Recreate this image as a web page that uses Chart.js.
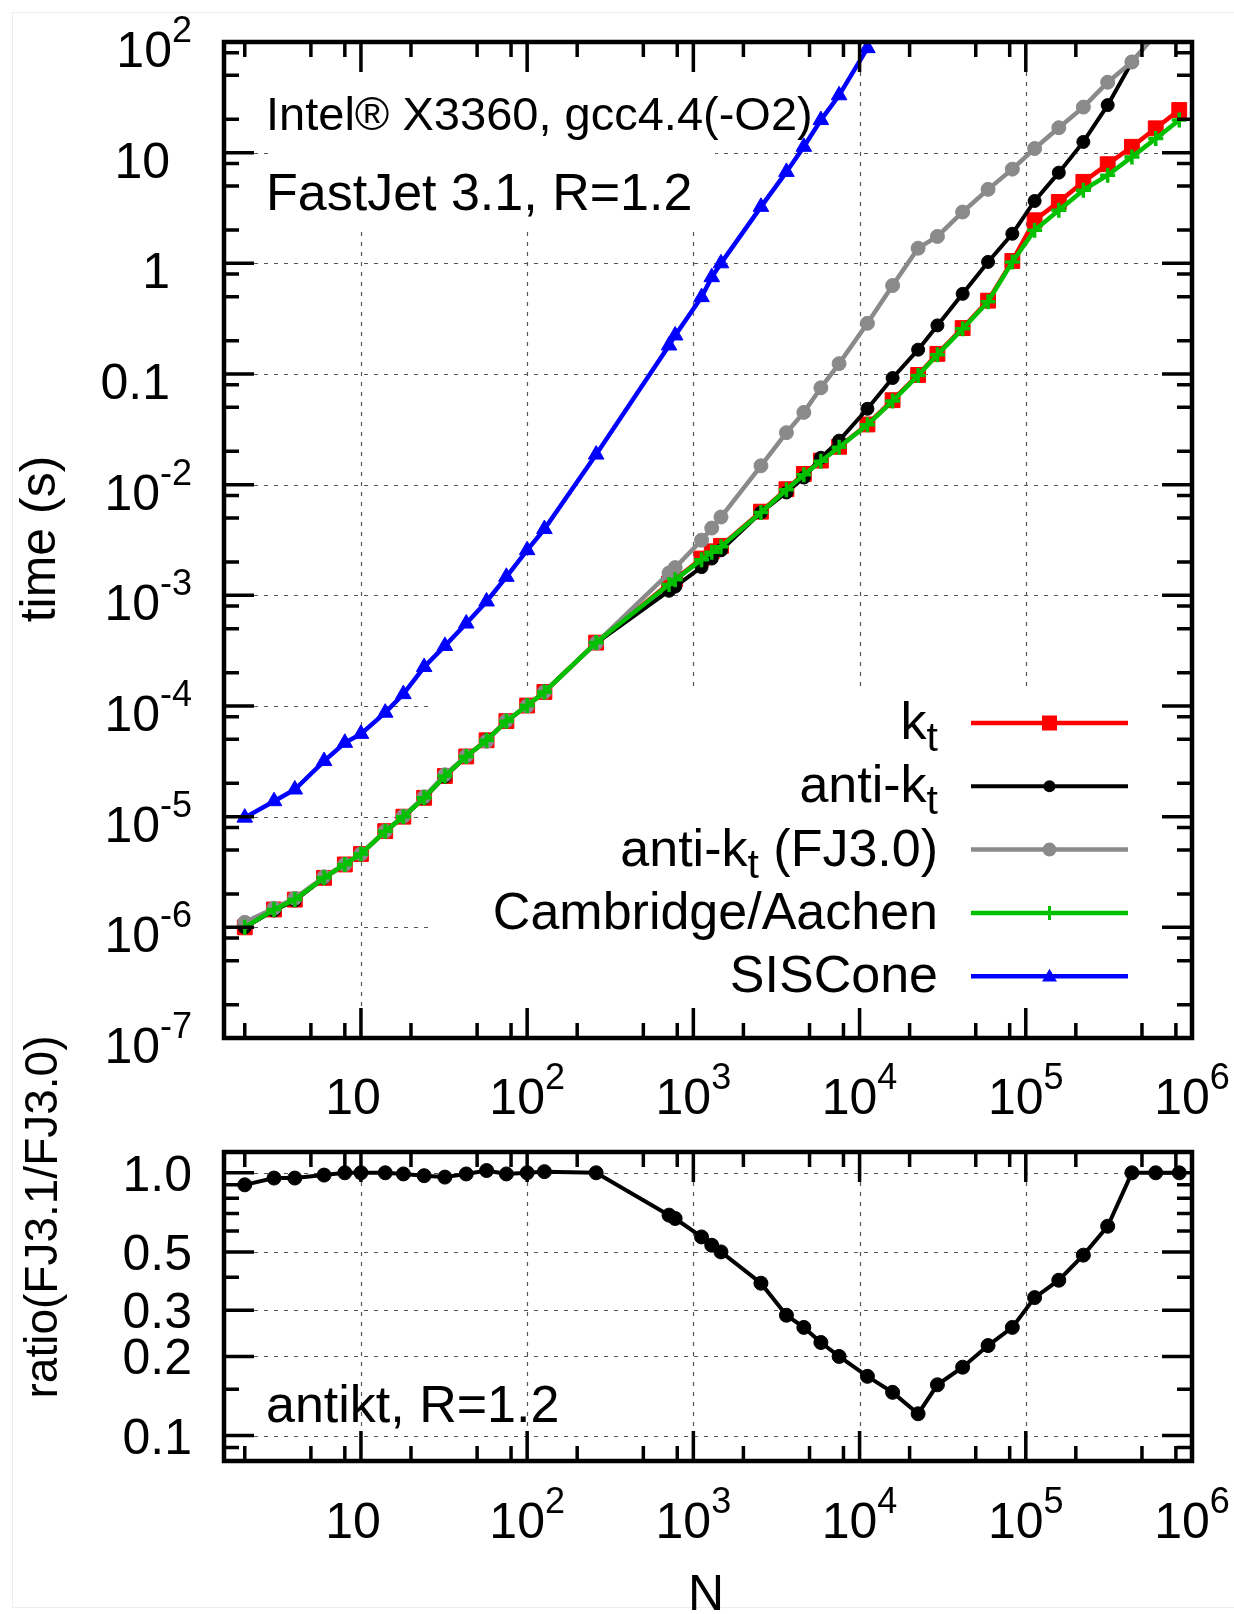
<!DOCTYPE html>
<html>
<head>
<meta charset="utf-8">
<title>FastJet 3.1 timings</title>
<script src="https://cdn.jsdelivr.net/npm/chart.js@4.4.1/dist/chart.umd.min.js"></script>
<style>
	html, body { margin: 0; padding: 0; background: #fff; }
	#wrap { position: relative; width: 1234px; height: 1614px; overflow: hidden; background: #fff; }
	#frame { position: absolute; left: 12px; top: 12px; width: 1300px; height: 1594px; border: 1px solid #eeeeee; }
	canvas { position: absolute; left: 0; }
	#timeChart { top: 0; }
	#ratioChart { top: 1000px; }
</style>
</head>
<body>
<div id="wrap">
	<div id="frame"></div>
	<canvas id="timeChart" width="1234" height="1140"></canvas>
	<canvas id="ratioChart" width="1234" height="614"></canvas>
</div>
<script>
const FONT = '"Liberation Sans", Arial, Helvetica, sans-serif';

// number of particles N (shared x axis)
const N = [2, 3, 4, 6, 8, 10, 14, 18, 24, 32, 43, 57, 75, 100, 127, 260,
	714, 777, 1120, 1290, 1466, 2550, 3630, 4620, 5850, 7530, 11150, 15800,
	22500, 29400, 41700, 59300, 83000, 113000, 158000, 222000, 311000, 435000,
	605000, 838000];

// clustering time in seconds
const ktTime = [1.0e-6, 1.45e-6, 1.78e-6, 2.8e-6, 3.7e-6, 4.6e-6, 7.4e-6, 1.0e-5,
	1.48e-5, 2.33e-5, 3.5e-5, 4.9e-5, 7.3e-5, 1.01e-4, 1.34e-4, 3.74e-4,
	1.28e-3, 1.40e-3, 2.15e-3, 2.5e-3, 2.8e-3, 5.7e-3, 9.1e-3, 1.25e-2, 1.65e-2,
	2.2e-2, 3.5e-2, 5.8e-2, 9.8e-2, 0.152, 0.26, 0.46, 1.05, 2.45, 3.59, 5.45,
	7.87, 11.3, 16.6, 24.3];
const antiktTime = [1.0e-6, 1.42e-6, 1.75e-6, 2.8e-6, 3.7e-6, 4.6e-6, 7.4e-6, 1.0e-5,
	1.47e-5, 2.3e-5, 3.5e-5, 4.9e-5, 7.3e-5, 1.0e-4, 1.35e-4, 3.7e-4,
	1.10e-3, 1.20e-3, 1.80e-3, 2.15e-3, 2.55e-3, 5.6e-3, 8.5e-3, 1.16e-2, 1.75e-2,
	2.5e-2, 4.85e-2, 9.2e-2, 0.166, 0.275, 0.53, 1.03, 1.85, 3.66, 6.6, 12.5,
	26.9, 66, 118, 200];
const antiktFJ30Time = [1.11e-6, 1.49e-6, 1.83e-6, 2.86e-6, 3.7e-6, 4.6e-6, 7.4e-6, 1.01e-5,
	1.51e-5, 2.39e-5, 3.54e-5, 4.8e-5, 7.37e-5, 1.0e-4, 1.34e-4, 3.7e-4,
	1.59e-3, 1.78e-3, 3.15e-3, 4.05e-3, 5.1e-3, 1.48e-2, 2.95e-2, 4.5e-2, 7.5e-2,
	0.124, 0.287, 0.63, 1.37, 1.75, 2.91, 4.66, 7.1, 10.9, 16.8, 25.8,
	43.3, 66, 118, 200];
const camTime = [1.0e-6, 1.45e-6, 1.78e-6, 2.8e-6, 3.7e-6, 4.6e-6, 7.4e-6, 1.0e-5,
	1.48e-5, 2.33e-5, 3.5e-5, 4.9e-5, 7.3e-5, 1.01e-4, 1.34e-4, 3.74e-4,
	1.25e-3, 1.38e-3, 2.10e-3, 2.45e-3, 2.75e-3, 5.6e-3, 9.0e-3, 1.23e-2, 1.63e-2,
	2.18e-2, 3.47e-2, 5.7e-2, 9.7e-2, 0.149, 0.256, 0.45, 1.03, 1.99, 3.02, 4.58,
	6.25, 9.16, 13.4, 19.7];
const sisconeTime = [9.8e-6, 1.38e-5, 1.76e-5, 3.18e-5, 4.65e-5, 5.6e-5, 8.7e-5, 1.28e-4,
	2.25e-4, 3.49e-4, 5.56e-4, 8.8e-4, 1.47e-3, 2.56e-3, 3.97e-3, 1.87e-2,
	0.181, 0.223, 0.495, 0.75, 1.0, 3.24, 6.7, 11.3, 19.7, 33, 88];

// anti-kt FJ3.1 / FJ3.0
const antiktRatio = [0.90, 0.955, 0.955, 0.98, 1.0, 1.0, 1.0, 0.99, 0.975, 0.963,
	0.99, 1.02, 0.99, 1.0, 1.01, 1.0, 0.69, 0.67, 0.57, 0.53, 0.50, 0.38, 0.287,
	0.258, 0.226, 0.20, 0.168, 0.146, 0.121, 0.156, 0.182, 0.22, 0.258, 0.335,
	0.39, 0.486, 0.626, 1.0, 1.0, 1.0];

const seriesNames = ['k_t', 'anti-k_t', 'anti-k_t (FJ3.0)', 'Cambridge/Aachen', 'SISCone'];

// ticks ( ^ = superscript )
const xTicks = [10, 1e2, 1e3, 1e4, 1e5, 1e6];
const xTickText = ['10', '10^2', '10^3', '10^4', '10^5', '10^6'];
const xMinor = [2, 5, 8, 20, 50, 80, 200, 500, 800, 2e3, 5e3, 8e3, 2e4, 5e4, 8e4, 2e5, 5e5, 8e5];
const timeTicks = [1e2, 10, 1, 0.1, 1e-2, 1e-3, 1e-4, 1e-5, 1e-6, 1e-7];
const timeTickText = ['10^2', '10', '1', '0.1', '10^-2', '10^-3', '10^-4', '10^-5', '10^-6', '10^-7'];
const timeMinor = [2e-7, 5e-7, 8e-7, 2e-6, 5e-6, 8e-6, 2e-5, 5e-5, 8e-5, 2e-4, 5e-4, 8e-4,
	2e-3, 5e-3, 8e-3, 0.02, 0.05, 0.08, 0.2, 0.5, 0.8, 2, 5, 8, 20, 50, 80];
const ratioTicks = [1.0, 0.5, 0.3, 0.2, 0.1];
const ratioTickText = ['1.0', '0.5', '0.3', '0.2', '0.1'];
const ratioMinor = [0.09, 0.15, 0.4, 0.6, 0.7, 0.8, 0.9];

// split "10^-2" / "k_t" into pieces: [text, size, baseline shift]
function rich(str, size) {
	const out = [];
	let buf = '', i = 0;
	while (i < str.length) {
		const c = str[i];
		if (c === '^' || c === '_') {
			if (buf) out.push([buf, size, 0]);
			buf = '';
			let j = i + 1, s = '';
			if (c === '^') {
				while (j < str.length && /[-0-9]/.test(str[j])) s += str[j++];
				out.push([s, Math.round(size * 0.72), -Math.round(size * 0.5)]);
			} else {
				s = str[j++];
				out.push([s, Math.round(size * 0.78), Math.round(size * 0.24)]);
			}
			i = j;
		} else {
			buf += c;
			i++;
		}
	}
	if (buf) out.push([buf, size, 0]);
	return out;
}

function richWidth(ctx, parts) {
	let w = 0;
	parts.forEach(p => { ctx.font = p[1] + 'px ' + FONT; w += ctx.measureText(p[0]).width; });
	return w;
}

function drawRich(ctx, str, size, x, y, align) {
	const parts = rich(str, size);
	const w = richWidth(ctx, parts);
	let cx = align === 'right' ? x - w : align === 'center' ? x - w / 2 : x;
	ctx.fillStyle = '#000';
	ctx.textAlign = 'left';
	ctx.textBaseline = 'alphabetic';
	parts.forEach(p => {
		ctx.font = p[1] + 'px ' + FONT;
		ctx.fillText(p[0], cx, y + p[2]);
		cx += ctx.measureText(p[0]).width;
	});
}

function vTitle(ctx, str, size, x, y) {
	ctx.save();
	ctx.translate(x, y);
	ctx.rotate(-Math.PI / 2);
	ctx.font = size + 'px ' + FONT;
	ctx.fillStyle = '#000';
	ctx.textAlign = 'center';
	ctx.textBaseline = 'alphabetic';
	ctx.fillText(str, 0, 0);
	ctx.restore();
}

function drawGrid(chart, yMajor) {
	const { ctx, chartArea: a, scales: { x, y } } = chart;
	ctx.save();
	ctx.strokeStyle = '#555';
	ctx.lineWidth = 1.2;
	ctx.setLineDash([4, 6]);
	ctx.beginPath();
	xTicks.forEach(v => {
		const px = Math.round(x.getPixelForValue(v)) + 0.5;
		if (px < a.right - 2) { ctx.moveTo(px, a.top); ctx.lineTo(px, a.bottom); }
	});
	yMajor.forEach(v => {
		const py = Math.round(y.getPixelForValue(v)) + 0.5;
		if (py > a.top + 2 && py < a.bottom - 2) { ctx.moveTo(a.left, py); ctx.lineTo(a.right, py); }
	});
	ctx.stroke();
	ctx.restore();
}

// gnuplot style border with inward ticks on all four sides
function drawFrame(chart, yMajor, yMinor) {
	const { ctx, chartArea: a, scales: { x, y } } = chart;
	ctx.save();
	ctx.strokeStyle = '#000';
	ctx.lineWidth = 3.5;
	ctx.beginPath();
	const xt = (v, len) => {
		const px = x.getPixelForValue(v);
		ctx.moveTo(px, a.bottom); ctx.lineTo(px, a.bottom - len);
		ctx.moveTo(px, a.top); ctx.lineTo(px, a.top + len);
	};
	const yt = (v, len) => {
		const py = y.getPixelForValue(v);
		ctx.moveTo(a.left, py); ctx.lineTo(a.left + len, py);
		ctx.moveTo(a.right, py); ctx.lineTo(a.right - len, py);
	};
	xTicks.forEach(v => xt(v, 30));
	xMinor.forEach(v => xt(v, 15));
	yMajor.forEach(v => yt(v, 30));
	yMinor.forEach(v => yt(v, 15));
	ctx.stroke();
	ctx.lineWidth = 4.5;
	ctx.strokeRect(a.left, a.top, a.right - a.left, a.bottom - a.top);
	ctx.restore();
}

function drawXLabels(chart, base) {
	const { ctx, chartArea: a, scales: { x } } = chart;
	xTicks.forEach((v, i) => {
		const plain = xTickText[i].indexOf('^') < 0;
		drawRich(ctx, xTickText[i], 50, x.getPixelForValue(v) - (plain ? 8 : 0), a.bottom + base, 'center');
	});
}

function marker(ctx, style, x, y, r, color) {
	ctx.save();
	ctx.fillStyle = color;
	ctx.strokeStyle = color;
	ctx.beginPath();
	if (style === 'rect') {
		ctx.fillRect(x - r, y - r, 2 * r, 2 * r);
	} else if (style === 'circle') {
		ctx.arc(x, y, r, 0, Math.PI * 2);
		ctx.fill();
	} else if (style === 'triangle') {
		ctx.moveTo(x, y - r);
		ctx.lineTo(x + r, y + r * 0.7);
		ctx.lineTo(x - r, y + r * 0.7);
		ctx.closePath();
		ctx.fill();
	} else if (style === 'cross') {
		ctx.lineWidth = 3;
		ctx.moveTo(x - r, y); ctx.lineTo(x + r, y);
		ctx.moveTo(x, y - r); ctx.lineTo(x, y + r);
		ctx.stroke();
	}
	ctx.restore();
}

function pts(vals) {
	return vals.map((v, i) => ({ x: N[i], y: v }));
}

const legendMarks = [['rect', 7.5], ['circle', 6], ['circle', 7], ['cross', 7], ['triangle', 7.5]];

const timePlugin = {
	id: 'timeDecor',
	beforeDatasetsDraw(chart) {
		const { ctx, chartArea: a } = chart;
		drawGrid(chart, timeTicks);
		// opaque boxes behind the key and the title text
		ctx.save();
		ctx.fillStyle = '#fff';
		ctx.fillRect(273, a.top + 2, 442, 185);
		ctx.fillRect(432, 690, a.right - 432, a.bottom - 690);
		ctx.restore();
	},
	afterDatasetsDraw(chart) {
		const { ctx, chartArea: a, scales: { y } } = chart;
		drawFrame(chart, timeTicks, timeMinor);
		timeTicks.forEach((v, i) => {
			const exp = timeTickText[i].indexOf('^') >= 0;
			drawRich(ctx, timeTickText[i], 50, a.left - (exp ? 32 : 54), y.getPixelForValue(v) + 25, 'right');
		});
		drawXLabels(chart, 76);
		vTitle(ctx, 'time (s)', 50, 55, 539);
		drawRich(ctx, 'Intel® X3360, gcc4.4(-O2)', 47, 266, 130, 'left');
		drawRich(ctx, 'FastJet 3.1, R=1.2', 52, 266, 210, 'left');
		// key
		chart.data.datasets.forEach(ds => {
			const k = ds.keyIndex;
			const ry = 723 + 63.3 * k;
			drawRich(ctx, seriesNames[k], 52, 938, ry + 16, 'right');
			ctx.save();
			ctx.strokeStyle = ds.borderColor;
			ctx.lineWidth = ds.borderWidth;
			ctx.beginPath();
			ctx.moveTo(971, ry);
			ctx.lineTo(1128, ry);
			ctx.stroke();
			ctx.restore();
			marker(ctx, legendMarks[k][0], 1049.5, ry, legendMarks[k][1], ds.borderColor);
		});
	}
};

const ratioPlugin = {
	id: 'ratioDecor',
	beforeDatasetsDraw(chart) {
		drawGrid(chart, ratioTicks);
	},
	afterDatasetsDraw(chart) {
		const { ctx, chartArea: a, scales: { y } } = chart;
		drawFrame(chart, ratioTicks, ratioMinor);
		ratioTicks.forEach((v, i) => {
			drawRich(ctx, ratioTickText[i], 50, a.left - 32, y.getPixelForValue(v) + 18, 'right');
		});
		drawXLabels(chart, 77);
		vTitle(ctx, 'ratio(FJ3.1/FJ3.0)', 46, 57, 217);
		drawRich(ctx, 'antikt, R=1.2', 52, 266, 422, 'left');
		drawRich(ctx, 'N', 50, 706, 610, 'center');
	}
};

window.onload = () => {
	const common = {
		responsive: false,
		animation: false,
		devicePixelRatio: 1,
		events: [],
		plugins: { legend: { display: false }, tooltip: { enabled: false } }
	};

	new Chart(document.getElementById('timeChart').getContext('2d'), {
		type: 'line',
		data: {
			datasets: [
				{ keyIndex: 0, data: pts(ktTime), borderColor: '#ff0000', backgroundColor: '#ff0000',
					borderWidth: 4.5, pointStyle: 'rect', pointRadius: 10.5, pointBorderWidth: 1, order: 4 },
				{ keyIndex: 1, data: pts(antiktTime), borderColor: '#000000', backgroundColor: '#000000',
					borderWidth: 4, pointStyle: 'circle', pointRadius: 6.5, pointBorderWidth: 1, order: 3 },
				{ keyIndex: 2, data: pts(antiktFJ30Time), borderColor: '#8a8a8a', backgroundColor: '#8a8a8a',
					borderWidth: 4.5, pointStyle: 'circle', pointRadius: 7, pointBorderWidth: 1, order: 2 },
				{ keyIndex: 3, data: pts(camTime), borderColor: '#00c000', backgroundColor: '#00c000',
					borderWidth: 4.5, pointStyle: 'cross', pointRadius: 7.5, pointBorderWidth: 3.5, order: 1 },
				{ keyIndex: 4, data: pts(sisconeTime), borderColor: '#0000ff', backgroundColor: '#0000ff',
					borderWidth: 4.5, pointStyle: 'triangle', pointRadius: 9, pointBorderWidth: 1, order: 0 }
			]
		},
		options: {
			...common,
			clip: 0,
			layout: { padding: { left: 224, top: 42, right: 42, bottom: 102 } },
			scales: {
				x: { type: 'logarithmic', min: 1.5, max: 1e6, display: false },
				y: { type: 'logarithmic', min: 1e-7, max: 100, display: false }
			}
		},
		plugins: [timePlugin]
	});

	new Chart(document.getElementById('ratioChart').getContext('2d'), {
		type: 'line',
		data: {
			datasets: [
				{ data: pts(antiktRatio), borderColor: '#000000', backgroundColor: '#000000',
					borderWidth: 4, pointStyle: 'circle', pointRadius: 7, pointBorderWidth: 1 }
			]
		},
		options: {
			...common,
			clip: 0,
			layout: { padding: { left: 224, top: 152, right: 42, bottom: 153 } },
			scales: {
				x: { type: 'logarithmic', min: 1.5, max: 1e6, display: false },
				y: { type: 'logarithmic', min: 0.08, max: 1.2, display: false }
			}
		},
		plugins: [ratioPlugin]
	});
};
</script>
</body>
</html>
